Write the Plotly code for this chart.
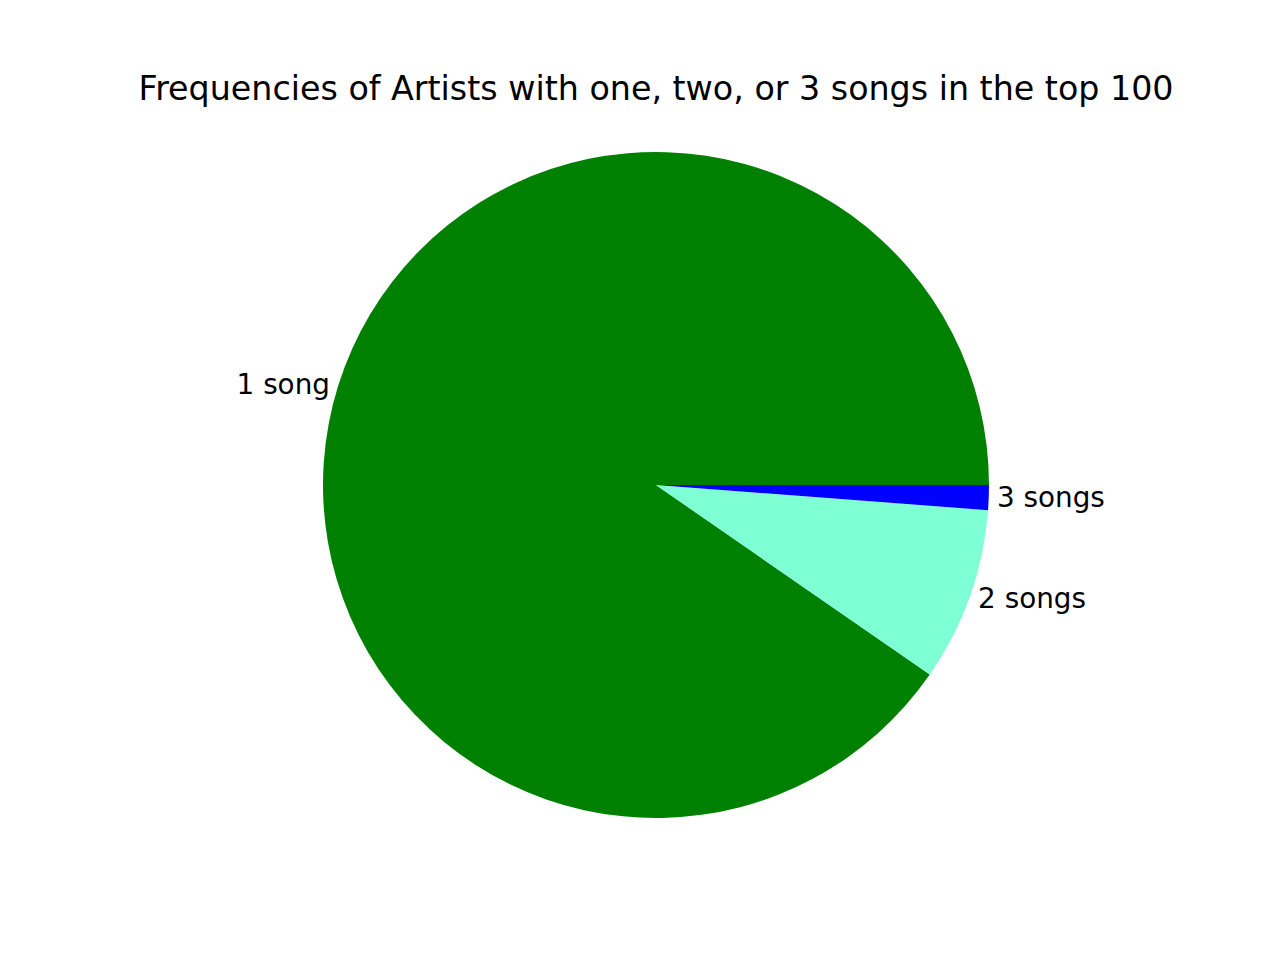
import plotly.graph_objects as go

labels = ["1 song", "2 songs", "3 songs"]
counts = [75, 7, 1]
colors = ["#008000", "#7FFFD4", "#0000FF"]

W, H = 1280, 960
# page body adds an 8px offset, so centre is shifted accordingly
cx, cy, r = 648, 477, 333

# start first slice at 3 o'clock going counter-clockwise (matplotlib default)
first_frac = counts[0] / sum(counts)
rotation = 90 + 360 * (1 - first_frac)

fig = go.Figure(go.Pie(
    labels=labels,
    values=counts,
    sort=False,
    direction="counterclockwise",
    rotation=rotation,
    marker=dict(colors=colors, line=dict(width=0)),
    textinfo="label",
    textposition="outside",
    outsidetextfont=dict(family="DejaVu Sans", size=27.8, color="black"),
    hoverinfo="label+value+percent",
    domain=dict(x=[(cx - r) / W, (cx + r) / W], y=[(H - cy - r) / H, (H - cy + r) / H]),
    showlegend=False,
))

fig.update_layout(
    width=W, height=H,
    margin=dict(l=0, r=0, t=0, b=0),
    paper_bgcolor="white",
    plot_bgcolor="white",
    title=dict(
        text="Frequencies of Artists with one, two, or 3 songs in the top 100",
        x=cx / W, xanchor="center",
        y=1 - 80 / H, yanchor="middle",
        font=dict(family="DejaVu Sans", size=33.3, color="black"),
    ),
)

fig.write_html("out.html")
